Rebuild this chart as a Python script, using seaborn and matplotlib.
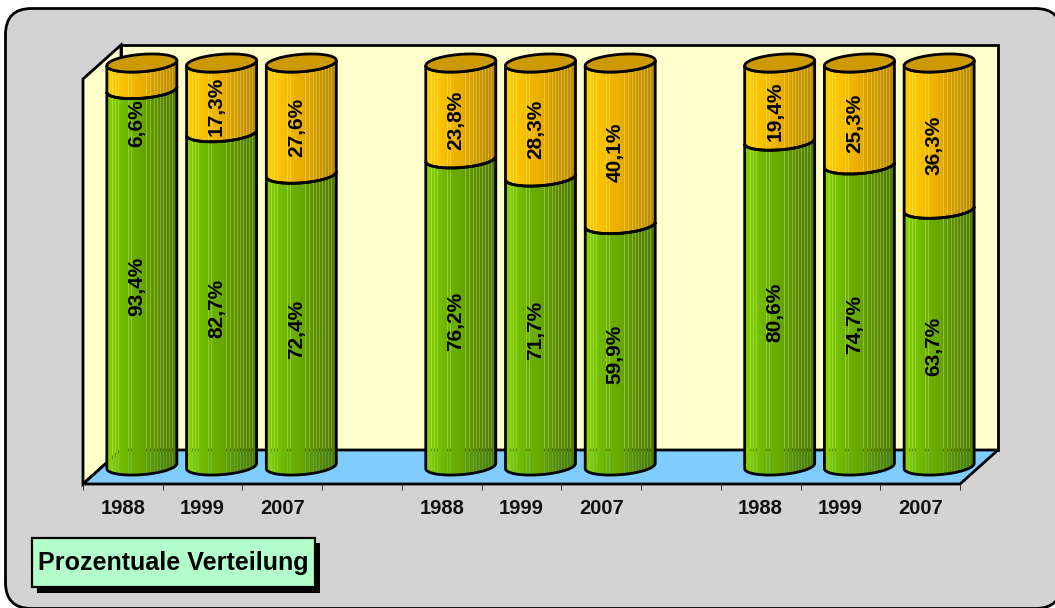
import numpy as np
import pandas as pd
import matplotlib
matplotlib.use("Agg")
import matplotlib.pyplot as plt
import seaborn as sns
from matplotlib.patches import FancyBboxPatch, Polygon, PathPatch, Rectangle
from matplotlib.path import Path

# Chart values
slots = [0, 1, 2, 4, 5, 6, 8, 9, 10]
years = ["1988", "1999", "2007", "1988", "1999", "2007", "1988", "1999", "2007"]
green_share = [93.4, 82.7, 72.4, 76.2, 71.7, 59.9, 80.6, 74.7, 63.7]
orange_share = [6.6, 17.3, 27.6, 23.8, 28.3, 40.1, 19.4, 25.3, 36.3]
legend_title = "Prozentuale Verteilung"

df = pd.DataFrame({"slot": slots, "year": years, "green": green_share, "orange": orange_share})
df["total"] = df["green"] + df["orange"]

W, H = 1055, 608
sns.set_style("white")
plt.rcParams["font.family"] = ["Liberation Sans", "DejaVu Sans"]
fig = plt.figure(figsize=(W / 100, H / 100), dpi=100, facecolor="white")

# Background: frame, walls, floor, legend box (pixel coordinates)
bg = fig.add_axes([0, 0, 1, 1], zorder=0)
bg.set_xlim(0, W)
bg.set_ylim(H, 0)
bg.axis("off")
bg.add_patch(FancyBboxPatch((5.5, 8.5), 1056, 600, boxstyle="round,pad=0,rounding_size=26",
                            fc="#d3d3d3", ec="black", lw=2.0))
wall = "#ffffcc"
bg.add_patch(Rectangle((121, 45), 877, 405, fc=wall, ec="black", lw=2.0))
bg.add_patch(Polygon([(83, 79), (121, 45), (121, 450), (83, 484)], fc=wall, ec="black", lw=2.0))
bg.add_patch(Polygon([(83, 484), (121, 450), (998, 450), (960, 484)], fc="#80ccff", ec="black", lw=2.0))
bg.add_patch(Rectangle((37, 543), 283, 50, fc="black", ec="none"))
bg.add_patch(Rectangle((32, 538), 283, 49, fc="#b3ffcc", ec="black", lw=1.6))
bg.text(173.5, 563, legend_title, fontsize=18.1, fontweight="bold", ha="center", va="center", color="black")

# Front axis with year labels and slot ticks
front = fig.add_axes([83 / W, (H - 484) / H, 877 / W, 0.01], zorder=1)
front.set_xlim(-0.5, 10.5)
front.patch.set_visible(False)
sns.despine(ax=front, left=True, bottom=True)
front.set_yticks([])
front.set_xticks(slots)
front.set_xticklabels(years, fontsize=14.5, fontweight="bold", color="#111111")
front.set_xticks(np.arange(-0.5, 11, 1), minor=True)
front.tick_params(axis="x", which="major", length=0, pad=10.5)
front.tick_params(axis="x", which="minor", length=4.5, width=0.7, color="#333333", bottom=True)

# Bars axes: 0 % sits at y=466 px, 100 % at y=63 px
px_per_unit = 4.03
margin = 8
top_px = 63 - margin * px_per_unit
bottom_px = 466 + margin * px_per_unit
ax = fig.add_axes([102 / W, (H - bottom_px) / H, 877 / W, (bottom_px - top_px) / H], zorder=2)
sns.barplot(data=df, x="slot", y="total", native_scale=True, width=0.878, color="#e6ad00", ax=ax, saturation=1)
sns.barplot(data=df, x="slot", y="green", native_scale=True, width=0.878, color="#6aaa00", ax=ax, saturation=1)
bars = list(ax.patches)
ax.set_xlim(-0.5, 10.5)
ax.set_ylim(-margin, 100 + margin)
ax.axis("off")

b_el = 2.15  # ellipse half height, in % units
s_el = 0.65  # tilt of the ellipse, in % units


def arc(cx, a, cy, t0, t1, n=60):
    t = np.linspace(t0, t1, n)
    return np.column_stack([cx + a * np.cos(t), cy + b_el * np.sin(t) + s_el * np.cos(t)])


def shade(stops, stripe_alpha=0.72):
    u = np.linspace(0, 1, 70)
    stops = np.array(stops, dtype=float) / 255
    pos = np.linspace(0, 1, len(stops))
    img = np.ones((1, 70, 4))
    for c in range(3):
        img[0, :, c] = np.interp(u, pos, stops[:, c])
    for col in [5, 8, 11, 21, 24, 38, 42, 46, 49, 52, 55, 58, 61, 64]:
        img[0, col, 3] = stripe_alpha
    return img


green_img = shade([(138, 214, 0), (112, 184, 0), (104, 168, 0), (88, 140, 0), (78, 122, 0)])
orange_img = shade([(255, 208, 0), (248, 192, 0), (232, 174, 0), (204, 152, 0), (184, 136, 0)])

# Turn each bar into a cylinder body, using the geometry seaborn gave it
n = len(slots)
for i in range(n):
    for bar, img, base in [(bars[i], orange_img, bars[n + i].get_height()),
                           (bars[n + i], green_img, 0.0)]:
        bar.set_alpha(0)
        x0, a = bar.get_x(), bar.get_width() / 2
        cx = x0 + a
        y1 = bar.get_height()
        verts = np.vstack([arc(cx, a, base, np.pi, 2 * np.pi), arc(cx, a, y1, 2 * np.pi, np.pi)])
        outline = PathPatch(Path(np.vstack([verts, verts[:1]])), fc="none", ec="black", lw=2.0, zorder=4)
        ax.add_patch(outline)
        im = ax.imshow(img, extent=(cx - a, cx + a, base - 5, y1 + 5), aspect="auto",
                       interpolation="nearest", zorder=3)
        im.set_clip_path(outline)
    # top cap
    bar = bars[i]
    a = bar.get_width() / 2
    cx = bar.get_x() + a
    cap = arc(cx, a, bar.get_height(), 0, 2 * np.pi, 120)
    ax.add_patch(PathPatch(Path(cap), fc="#cc9900", ec="black", lw=2.0, zorder=5))

ax.set_xlim(-0.5, 10.5)
ax.set_ylim(-margin, 100 + margin)

# Value labels, rotated, sitting a little below segment centre
fmt = lambda v: f"{v:.1f}".replace(".", ",") + "%"
for s, g, o in zip(slots, green_share, orange_share):
    shift_o = -47 if o < 10 else -9
    ax.annotate(fmt(o), (s, g + o / 2), xytext=(-5, shift_o), textcoords="offset pixels", rotation=90,
                ha="center", va="center", fontsize=15, fontweight="bold", color="black", zorder=6)
    ax.annotate(fmt(g), (s, g / 2), xytext=(-5, -9), textcoords="offset pixels", rotation=90,
                ha="center", va="center", fontsize=15, fontweight="bold", color="black", zorder=6)

fig.savefig("out.png", dpi=100)
